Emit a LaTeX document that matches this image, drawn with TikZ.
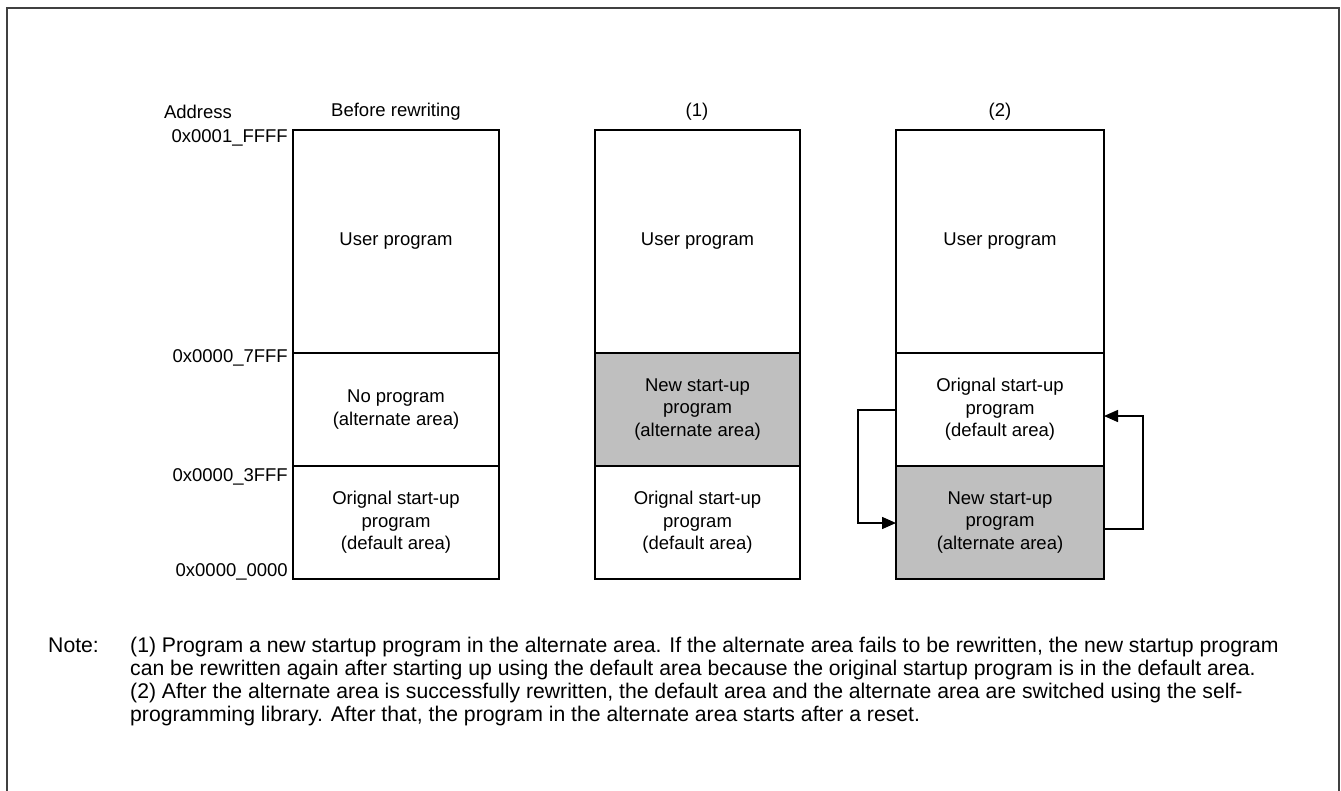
\documentclass[tikz,border=0pt]{standalone}
\usepackage{fontspec}
\setmainfont{Liberation Sans}
\usetikzlibrary{arrows.meta}
\begin{document}
\begin{tikzpicture}[x=1pt,y=-1pt,
  txt/.style={font=\fontsize{18.5pt}{22.5pt}\selectfont, inner sep=0pt, align=center},
  addr/.style={txt, anchor=east},
  seg/.style={draw=black, line width=1.6pt},
  grayseg/.style={seg, fill=gray!50!white},
  conn/.style={line width=1.5pt, -{Triangle[length=14pt,width=12pt]}},
  notes/.style={font=\fontsize{21.2pt}{22pt}\selectfont, inner sep=0pt, anchor=base west}]
\useasboundingbox (0,0) rectangle (1341,790);
\draw[line width=2pt, draw=black!75] (6.5,795) -- (6.5,7.5) -- (1338.5,7.5) -- (1338.5,795);

% headers
\node[txt] (hAddr) at (198,112) {Address};
\node[txt] (hBefore) at (396,112) {Before rewriting};
\node[txt] (h1) at (697,112) {(1)};
\node[txt] (h2) at (1000,112) {(2)};

% addresses
\node[addr] (a1) at (288,138) {0x0001\_FFFF};
\node[addr] (a2) at (288,358) {0x0000\_7FFF};
\node[addr] (a3) at (288,477) {0x0000\_3FFF};
\node[addr] (a4) at (288,572) {0x0000\_0000};

% column 1
\draw[seg] (293,130) rectangle (499,353);
\draw[seg] (293,353) rectangle (499,466);
\draw[seg] (293,466) rectangle (499,579);
\node[txt] (c1u) at (396,241) {User program};
\node[txt] (c1m) at (396,409.5) {No program\\(alternate area)};
\node[txt] (c1l) at (396,522.5) {Orignal start-up\\program\\(default area)};

% column 2
\draw[seg] (595,130) rectangle (800,353);
\draw[grayseg] (595,353) rectangle (800,466);
\draw[seg] (595,466) rectangle (800,579);
\node[txt] (c2u) at (697.5,241) {User program};
\node[txt] (c2m) at (697.5,409.5) {New start-up\\program\\(alternate area)};
\node[txt] (c2l) at (697.5,522.5) {Orignal start-up\\program\\(default area)};

% column 3
\draw[seg] (896,130) rectangle (1104,353);
\draw[seg] (896,353) rectangle (1104,466);
\draw[grayseg] (896,466) rectangle (1104,579);
\node[txt] (c3u) at (1000,241) {User program};
\node[txt] (c3m) at (1000,409.5) {Orignal start-up\\program\\(default area)};
\node[txt] (c3l) at (1000,522.5) {New start-up\\program\\(alternate area)};

% switching arrows
\coordinate (l1) at (896,410);
\coordinate (l2) at (896,523);
\coordinate (r1) at (1104,529);
\coordinate (r2) at (1104,416);
\draw[conn] (l1) -- (858,410) -- (858,523) -- (l2);
\draw[conn] (r1) -- (1143,529) -- (1143,416) -- (r2);

% note
\node[notes] (note) at (48,652) {Note:};
\node[notes] (n1) at (130,652) {(1) Program a new startup program in the alternate area. If the alternate area fails to be rewritten, the new startup program};
\node[notes] (n2) at (130,675) {can be rewritten again after starting up using the default area because the original startup program is in the default area.};
\node[notes] (n3) at (130,698) {(2) After the alternate area is successfully rewritten, the default area and the alternate area are switched using the self-};
\node[notes] (n4) at (130,721) {programming library. After that, the program in the alternate area starts after a reset.};
\end{tikzpicture}
\end{document}
